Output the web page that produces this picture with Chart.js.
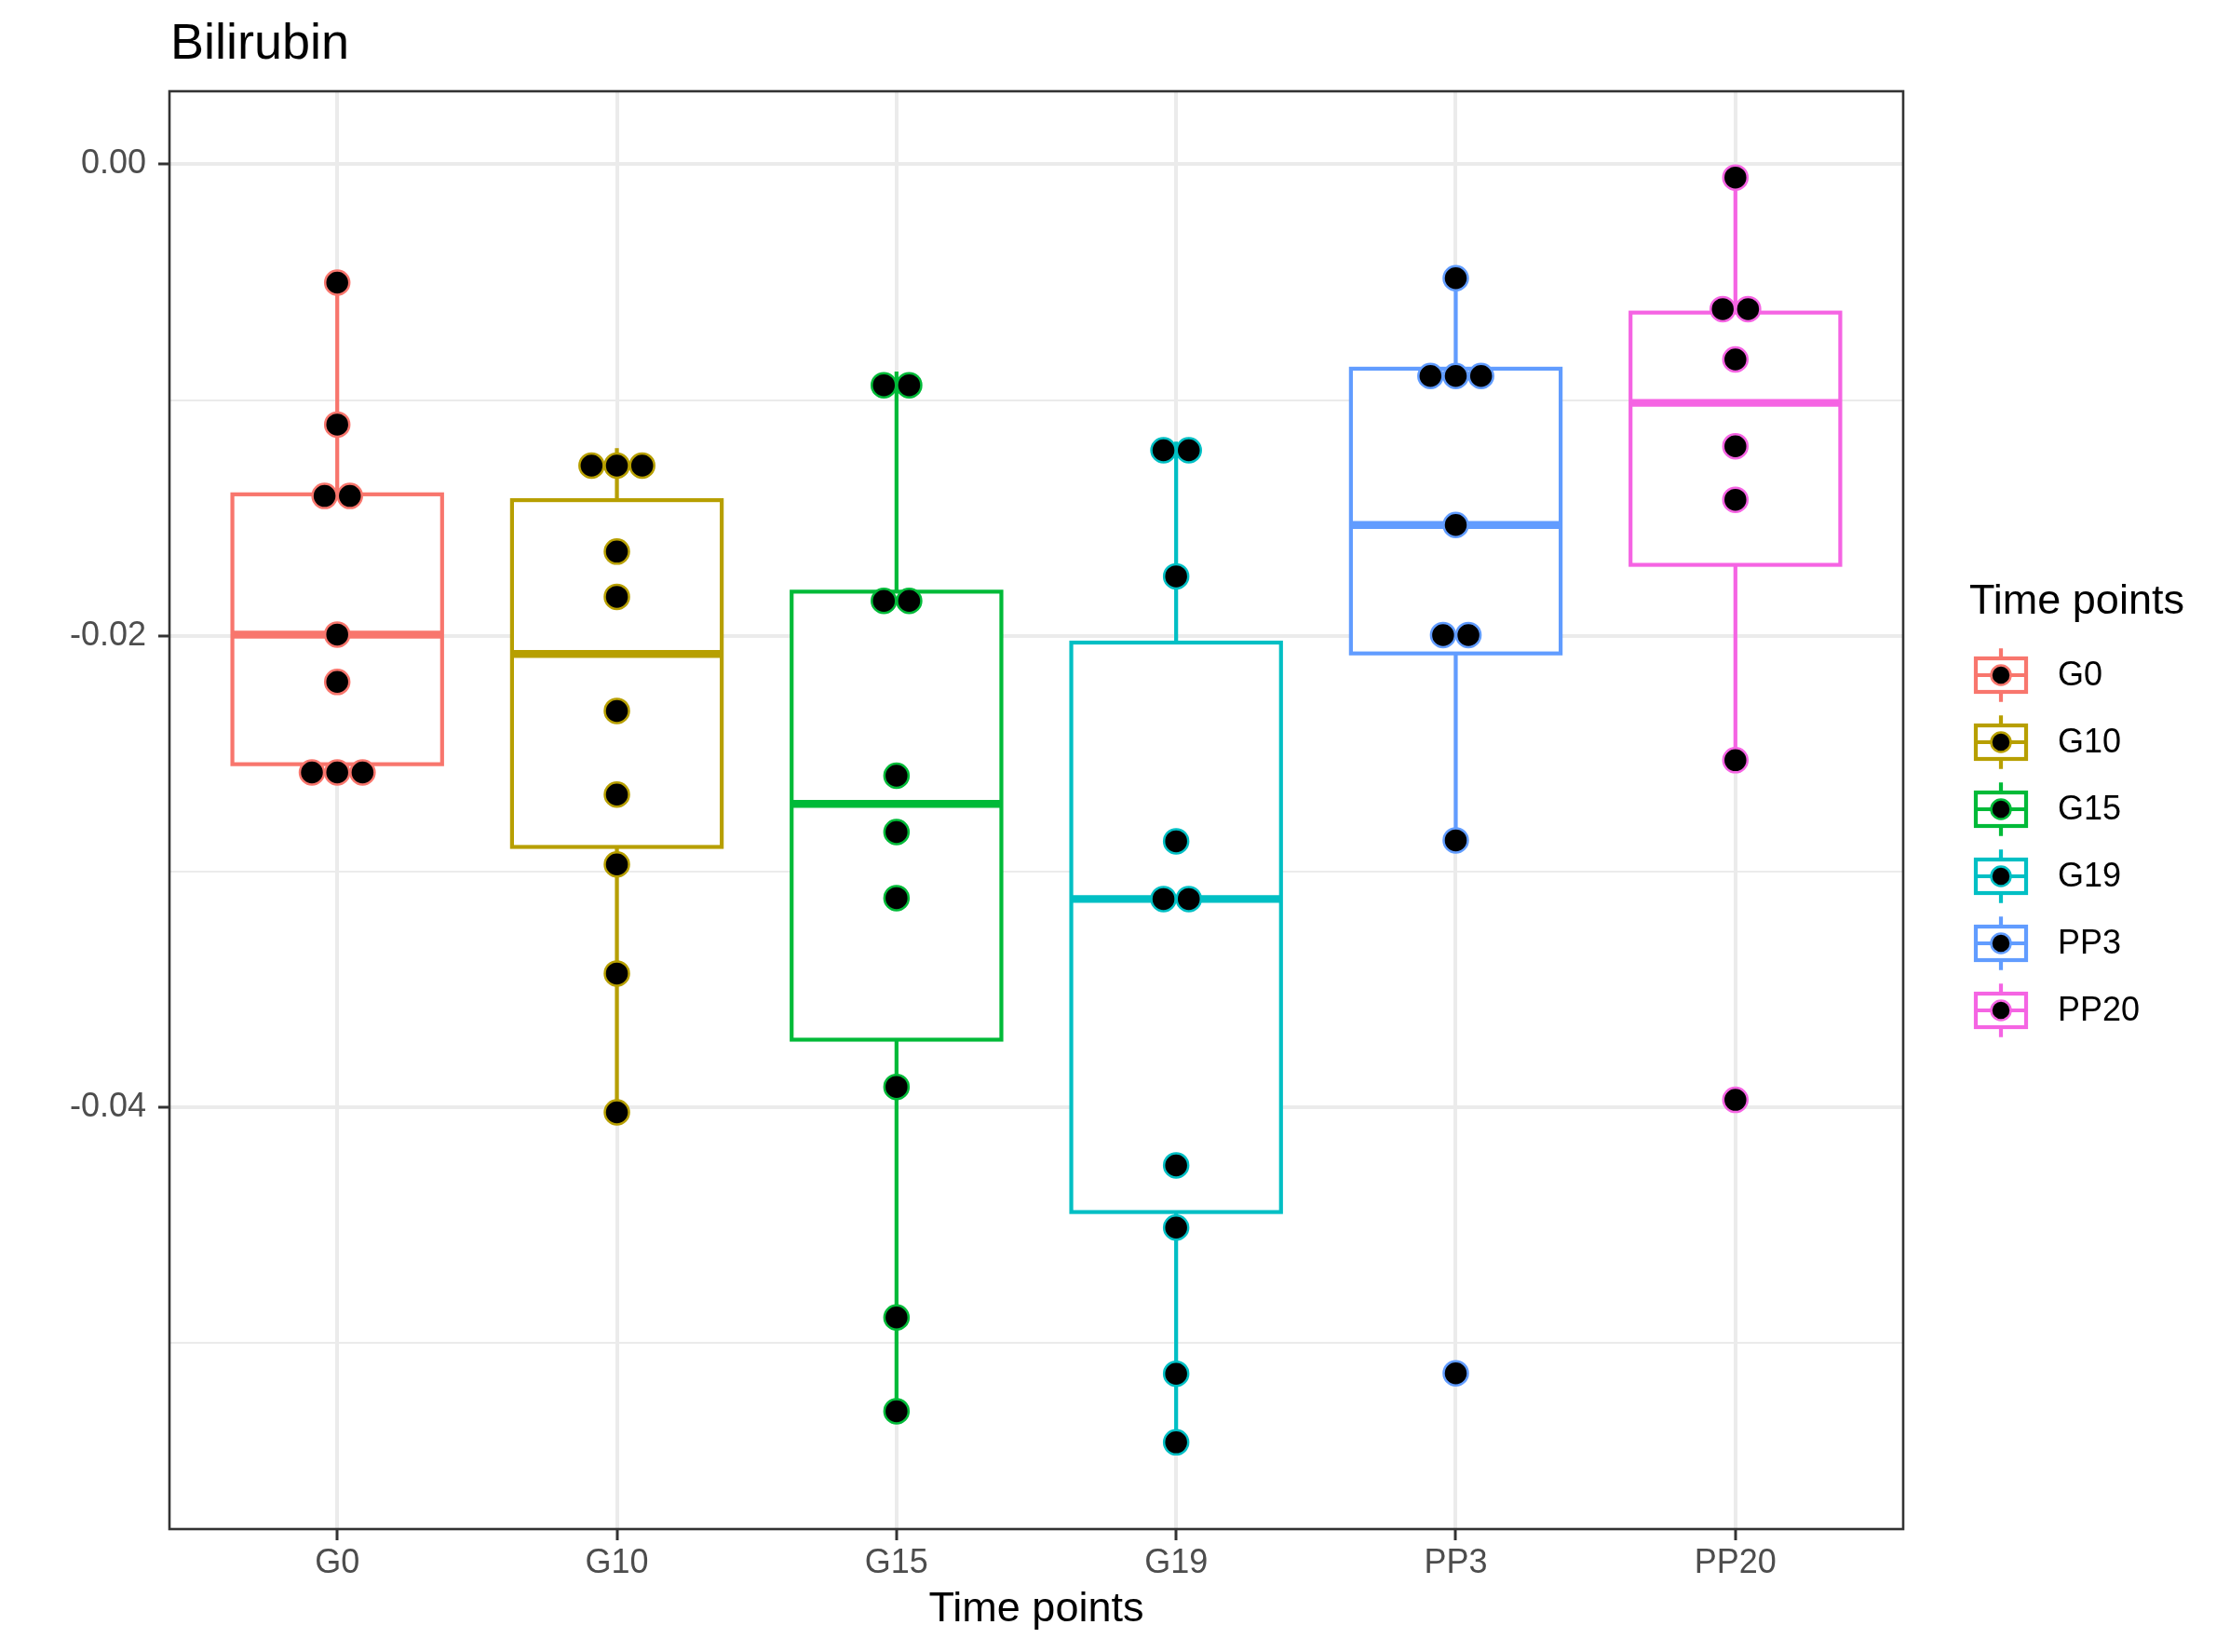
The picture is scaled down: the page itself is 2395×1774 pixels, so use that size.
<!DOCTYPE html>
<html>
<head>
<meta charset="utf-8">
<script src="https://cdn.jsdelivr.net/npm/chart.js@4.4.0/dist/chart.umd.min.js"></script>
<style>
  html, body { margin: 0; padding: 0; background: #fff; }
  #wrap { width: 2395px; height: 1774px; }
</style>
</head>
<body>
<div id="wrap"><canvas id="bili" width="2395" height="1774"></canvas></div>
<script>
// --- data ---
const categories = ['G0', 'G10', 'G15', 'G19', 'PP3', 'PP20'];
const colors = ['#F8766D', '#B79F00', '#00BA38', '#00BFC4', '#619CFF', '#F564E3'];

const G0   = [-0.00502, -0.01104, -0.01414, -0.01400, -0.01995, -0.02196, -0.02615, -0.02580, -0.02545];
const G10  = [-0.01204, -0.01280, -0.01352, -0.01643, -0.01835, -0.02319, -0.02674, -0.02970, -0.03433, -0.04022];
const G15  = [-0.00879, -0.00995, -0.01774, -0.01930, -0.02594, -0.02833, -0.03113, -0.03914, -0.04892, -0.05290];
const G19  = [-0.01176, -0.01250, -0.01748, -0.02872, -0.03084, -0.03150, -0.04247, -0.04511, -0.05131, -0.05422];
const PP3  = [-0.00483, -0.00826, -0.00867, -0.00970, -0.01530, -0.01919, -0.02075, -0.02868, -0.05129];
const PP20 = [-0.00056, -0.00584, -0.00644, -0.00828, -0.01196, -0.01423, -0.02528, -0.03969];
const seriesValues = [G0, G10, G15, G19, PP3, PP20];

const yMajorTicks = [-0.04, -0.02, 0.00];
const yMajorLabels = ['-0.04', '-0.02', '0.00'];
const yMinorTicks = [-0.05, -0.03, -0.01];

// --- look ---
const FONT = "'Liberation Sans', Arial, Helvetica, sans-serif";
const BOX_WIDTH = 0.75;   // in category units
const STACK_STEP = 0.0905; // horizontal spacing of stacked dots
const LINE_W = 4.2;

Chart.defaults.font.family = FONT;

// quantile (type 7, same as R default)
function quantile(sorted, p) {
  const h = (sorted.length - 1) * p;
  const lo = Math.floor(h), hi = Math.ceil(h);
  return sorted[lo] + (h - lo) * (sorted[hi] - sorted[lo]);
}

function boxStats(values) {
  const s = [...values].sort((a, b) => a - b);
  const q1 = quantile(s, 0.25), med = quantile(s, 0.5), q3 = quantile(s, 0.75);
  const iqr = q3 - q1;
  const inside = s.filter(v => v >= q1 - 1.5 * iqr && v <= q3 + 1.5 * iqr);
  return { q1, med, q3, lo: inside[0], hi: inside[inside.length - 1] };
}

// dot density binning (like geom_dotplot, binaxis = y, stackdir = center)
const allVals = seriesValues.flat();
const binwidth = (Math.max(...allVals) - Math.min(...allVals)) / 30;

function dotPoints(values, gi) {
  const s = [...values].sort((a, b) => a - b);
  const bins = [];
  let binEnd = -Infinity;
  s.forEach(v => {
    if (v >= binEnd) { bins.push([]); binEnd = v + binwidth; }
    bins[bins.length - 1].push(v);
  });
  const pts = [];
  bins.forEach(b => {
    const center = (b[0] + b[b.length - 1]) / 2;
    b.forEach((v, i) => pts.push({ x: gi + (i - (b.length - 1) / 2) * STACK_STEP, y: center }));
  });
  return pts;
}

const datasets = categories.map((c, i) => ({
  label: c,
  data: dotPoints(seriesValues[i], i),
  backgroundColor: '#000000',
  borderColor: colors[i],
  borderWidth: 2.5,
  pointRadius: 13,
  pointHoverRadius: 13
}));

// boxes + whiskers under the dots
const boxPlugin = {
  id: 'boxes',
  beforeDatasetsDraw(chart) {
    const { ctx, scales: { x, y } } = chart;
    ctx.save();
    seriesValues.forEach((vals, i) => {
      const st = boxStats(vals);
      const cx = x.getPixelForValue(i);
      const x0 = x.getPixelForValue(i - BOX_WIDTH / 2);
      const x1 = x.getPixelForValue(i + BOX_WIDTH / 2);
      const yq1 = y.getPixelForValue(st.q1), yq3 = y.getPixelForValue(st.q3);
      const ymed = y.getPixelForValue(st.med);
      ctx.strokeStyle = colors[i];
      ctx.lineWidth = LINE_W;
      ctx.beginPath();
      ctx.moveTo(cx, y.getPixelForValue(st.hi)); ctx.lineTo(cx, yq3);
      ctx.moveTo(cx, yq1); ctx.lineTo(cx, y.getPixelForValue(st.lo));
      ctx.stroke();
      ctx.fillStyle = '#ffffff';
      ctx.fillRect(x0, yq3, x1 - x0, yq1 - yq3);
      ctx.strokeRect(x0, yq3, x1 - x0, yq1 - yq3);
      ctx.lineWidth = LINE_W * 2;
      ctx.beginPath();
      ctx.moveTo(x0, ymed); ctx.lineTo(x1, ymed);
      ctx.stroke();
    });
    ctx.restore();
  }
};

// title, panel border, legend
const decorPlugin = {
  id: 'decor',
  afterDraw(chart) {
    const { ctx, chartArea: a } = chart;
    ctx.save();
    // panel border
    ctx.strokeStyle = '#333333';
    ctx.lineWidth = 2.6;
    ctx.strokeRect(a.left, a.top, a.right - a.left, a.bottom - a.top);

    // title
    ctx.fillStyle = '#000';
    ctx.font = '54px ' + FONT;
    ctx.textAlign = 'left';
    ctx.textBaseline = 'alphabetic';
    ctx.fillText('Bilirubin', a.left + 1, 63);

    // legend
    ctx.font = '45px ' + FONT;
    ctx.fillText('Time points', 2115, 659);
    const key = 72, kx = 2113, ky0 = 689;
    categories.forEach((c, i) => {
      const top = ky0 + i * key;
      const cxk = kx + key / 2, cyk = top + key / 2;
      ctx.strokeStyle = colors[i];
      ctx.lineWidth = LINE_W;
      ctx.beginPath();
      ctx.moveTo(cxk, top + key * 0.1); ctx.lineTo(cxk, top + key * 0.25);
      ctx.moveTo(cxk, top + key * 0.75); ctx.lineTo(cxk, top + key * 0.9);
      ctx.stroke();
      ctx.fillStyle = '#fff';
      ctx.fillRect(kx + key * 0.125, top + key * 0.25, key * 0.75, key * 0.5);
      ctx.strokeRect(kx + key * 0.125, top + key * 0.25, key * 0.75, key * 0.5);
      ctx.beginPath();
      ctx.moveTo(kx + key * 0.125, cyk); ctx.lineTo(kx + key * 0.875, cyk);
      ctx.stroke();
      ctx.beginPath();
      ctx.arc(cxk, cyk, 10.5, 0, Math.PI * 2);
      ctx.fillStyle = '#000';
      ctx.fill();
      ctx.lineWidth = 2.5;
      ctx.stroke();
      ctx.fillStyle = '#000';
      ctx.font = '36px ' + FONT;
      ctx.textBaseline = 'middle';
      ctx.fillText(c, 2210, cyk + 1);
      ctx.textBaseline = 'alphabetic';
    });
    ctx.restore();
  }
};

const isMajor = v => yMajorTicks.some(t => Math.abs(t - v) < 1e-9);

new Chart(document.getElementById('bili'), {
  type: 'scatter',
  data: { datasets },
  options: {
    responsive: false,
    devicePixelRatio: 1,
    animation: false,
    events: [],
    layout: { padding: { left: 0, top: 98, right: 351, bottom: 0 } },
    plugins: { legend: { display: false }, tooltip: { enabled: false } },
    scales: {
      x: {
        type: 'linear',
        min: -0.6,
        max: 5.6,
        afterBuildTicks: s => { s.ticks = categories.map((c, i) => ({ value: i })); },
        afterFit: s => { s.height = 132; },
        ticks: {
          callback: v => categories[Math.round(v)],
          font: { size: 36 },
          color: '#4D4D4D',
          padding: 3,
          maxRotation: 0,
          autoSkip: false
        },
        grid: { color: '#EBEBEB', lineWidth: 4, tickLength: 12, tickColor: '#333333', tickWidth: 3 },
        border: { display: false },
        title: { display: true, text: 'Time points', color: '#000', font: { size: 45 }, padding: { top: 0, bottom: 18 } }
      },
      y: {
        type: 'linear',
        min: -0.0579,
        max: 0.0031,
        afterBuildTicks: s => {
          s.ticks = [...yMinorTicks, ...yMajorTicks].sort((a, b) => a - b).map(v => ({ value: v }));
        },
        afterFit: s => { s.width = 182; },
        ticks: {
          callback: v => {
            const k = yMajorTicks.findIndex(t => Math.abs(t - v) < 1e-9);
            return k >= 0 ? yMajorLabels[k] : '';
          },
          font: { size: 36 },
          color: '#4D4D4D',
          padding: 13,
          autoSkip: false
        },
        grid: {
          color: '#EBEBEB',
          lineWidth: c => (c.tick && isMajor(c.tick.value)) ? 4 : 2,
          tickLength: 12,
          tickColor: c => (c.tick && isMajor(c.tick.value)) ? '#333333' : 'rgba(0,0,0,0)',
          tickWidth: 3
        },
        border: { display: false }
      }
    }
  },
  plugins: [boxPlugin, decorPlugin]
});
</script>
</body>
</html>
